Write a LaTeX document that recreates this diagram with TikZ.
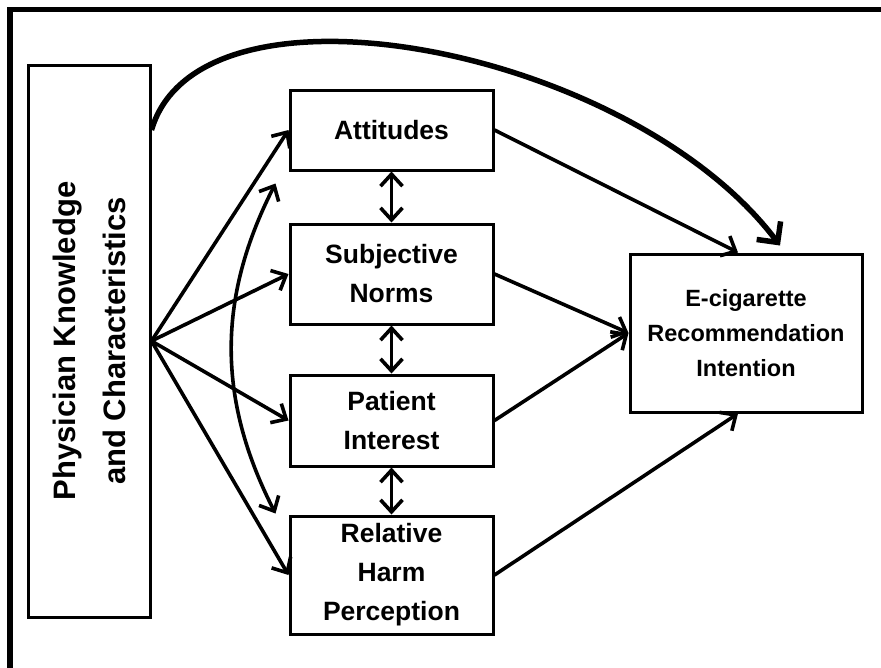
\documentclass[tikz,border=0pt]{standalone}
\usepackage{fontspec}
\setmainfont{Liberation Sans}
\usetikzlibrary{arrows.meta}

\begin{document}
\begin{tikzpicture}[x=1pt, y=-1pt,
  box/.style={draw, line width=3pt, align=center, inner sep=0pt, font=\fontsize{26.5}{39}\selectfont\bfseries},
  link/.style={line width=3.6pt, -{Straight Barb[length=12pt,width=22pt]}},
  both/.style={line width=3.6pt, {Straight Barb[length=12pt,width=22pt]}-{Straight Barb[length=12pt,width=22pt]}}]

\useasboundingbox (0,0) rectangle (881,667);

% frame
\draw[line width=5.5pt] (10,675) -- (10,9.5) -- (890,9.5);

% boxes
\node[box, minimum width=122pt, minimum height=552pt] (phys) at (89,341) {};
\node[rotate=90, align=center, font=\fontsize{31}{50}\selectfont\bfseries] (physText) at (phys.center) {Physician Knowledge\\and Characteristics};

\node[box, minimum width=203pt, minimum height=80pt] (att) at (391.5,130) {Attitudes};
\node[box, minimum width=203pt, minimum height=100pt] (subj) at (391.5,274) {Subjective\\Norms};
\node[box, minimum width=203pt, minimum height=91pt] (pat) at (391.5,420.5) {Patient\\Interest};
\node[box, minimum width=203pt, minimum height=118pt] (harm) at (391.5,575) {Relative\\Harm\\Perception};
\node[box, minimum width=232pt, minimum height=158pt, font=\fontsize{23.5}{35}\selectfont\bfseries] (ecig) at (746,333) {E-cigarette\\Recommendation\\Intention};

% arrows
\foreach \t in {att, subj, pat, harm}
  \draw[link] (phys.east) -- (\t.west);
\foreach \s/\t in {att/subj, subj/pat, pat/harm}
  \draw[both] (\s.south) -- (\t.north);

\draw[link] (att.east) -- ([xshift=-8pt]ecig.north);
\draw[link] (subj.east) -- (ecig.west);
\draw[link] (pat.east) -- (ecig.west);
\draw[link] (harm.east) -- ([xshift=-8pt]ecig.south);

\draw[both] ([xshift=-13pt,yshift=-12pt]att.south west) to[bend right=27] ([xshift=-13pt,yshift=1pt]harm.north west);

\draw[line width=5.5pt, -{Straight Barb[length=15pt,width=30pt]}] (phys.east |- att.west) .. controls (200,-35) and (630,47) .. ([xshift=34pt,yshift=7pt]ecig.north);
\end{tikzpicture}
\end{document}
